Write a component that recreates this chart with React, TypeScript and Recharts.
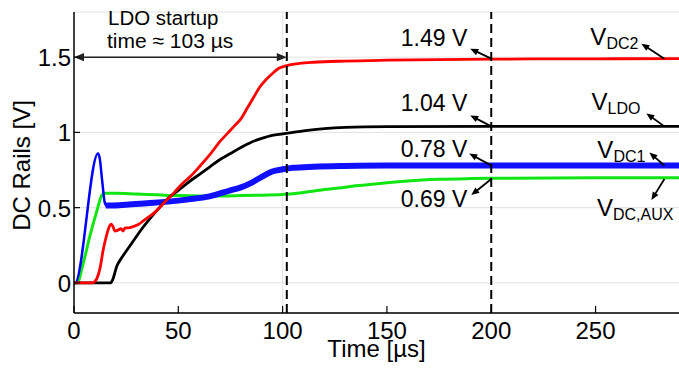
import {
  CartesianGrid,
  Line,
  LineChart,
  ReferenceDot,
  ReferenceLine,
  XAxis,
  YAxis,
} from "recharts";

const FONT = "'Liberation Sans', Arial, Helvetica, sans-serif";

const timeTicks = [0, 50, 100, 150, 200, 250];
const voltTicks = [0, 0.5, 1, 1.5];

// V_DC2 (red)
const vdc2Time = [0, 9, 10, 11, 12.5, 14, 15.5, 16.8, 17.8, 18.5, 19.6, 21, 22.5, 23.5, 24.5, 26, 28.5, 31, 33, 36, 38, 41, 44, 48, 52, 56, 60, 65, 70, 74, 77, 80, 83, 86, 89, 92, 95, 98, 101, 104, 108, 115, 130, 150, 200, 250, 290];
const vdc2Volt = [0, 0, 0.01, 0.03, 0.1, 0.22, 0.31, 0.37, 0.39, 0.38, 0.345, 0.35, 0.36, 0.345, 0.365, 0.365, 0.375, 0.39, 0.41, 0.44, 0.46, 0.5, 0.545, 0.6, 0.66, 0.71, 0.77, 0.85, 0.94, 1.0, 1.045, 1.09, 1.16, 1.23, 1.3, 1.35, 1.39, 1.425, 1.44, 1.45, 1.458, 1.466, 1.474, 1.48, 1.487, 1.489, 1.49];

// V_LDO (black)
const vldoTime = [0, 17.5, 18.5, 20.5, 23, 25.5, 28.5, 31.5, 36, 40, 45, 50, 55, 60, 65, 70, 75, 80, 85, 90, 95, 100, 105, 110, 120, 130, 150, 200, 250, 290];
const vldoVolt = [0, 0, 0.02, 0.11, 0.17, 0.22, 0.28, 0.34, 0.42, 0.485, 0.56, 0.615, 0.67, 0.72, 0.77, 0.82, 0.86, 0.9, 0.935, 0.96, 0.98, 0.99, 1.0, 1.01, 1.025, 1.033, 1.038, 1.04, 1.04, 1.04];

// V_DC1 (blue) - initial spike drawn thin, the noisy settled part thick
const vdc1RiseTime = [0, 0.5, 11.5, 12.3, 13.5, 14.8, 15.8];
const vdc1RiseVolt = [0, 0, 0.86, 0.83, 0.68, 0.53, 0.51];
const vdc1Time = [15.2, 18, 25, 35, 45, 55, 65, 75, 80, 85, 90, 95, 100, 105, 115, 130, 150, 200, 250, 290];
const vdc1Volt = [0.515, 0.515, 0.52, 0.53, 0.54, 0.555, 0.575, 0.615, 0.635, 0.665, 0.705, 0.74, 0.755, 0.765, 0.772, 0.777, 0.78, 0.78, 0.78, 0.78];

// V_DC,AUX (green)
const vauxTime = [0, 1.5, 4.4, 7.6, 10.8, 13.5, 15, 20, 30, 40, 50, 60, 70, 80, 90, 100, 105, 110, 115, 120, 127, 135, 143, 150, 160, 175, 190, 200, 250, 290];
const vauxVolt = [0, 0, 0.13, 0.31, 0.47, 0.585, 0.595, 0.595, 0.59, 0.585, 0.58, 0.578, 0.578, 0.58, 0.583, 0.588, 0.592, 0.6, 0.61, 0.62, 0.63, 0.645, 0.655, 0.665, 0.677, 0.688, 0.693, 0.695, 0.698, 0.698];

const startupTime = 102;
const startupLevel = 1.5;
const readoutTime = 200;
const railLabelTime = 283;

const readoutLabels = ["1.49 V", "1.04 V", "0.78 V", "0.69 V"];
const readoutValues = [1.49, 1.04, 0.78, 0.69];
const railNames = ["DC2", "LDO", "DC1", "DC,AUX"];

// pixel offsets of arrow heads / text from the annotated point
const readoutOffsets = [
  { hx: -21, hy: -10, tx: -24, ty: -13 },
  { hx: -21, hy: -11, tx: -24, ty: -15 },
  { hx: -22, hy: -12, tx: -24, ty: -9 },
  { hx: -20, hy: 16, tx: -24, ty: 28 },
];
const railOffsets = [
  { hx: -23, hy: -15, tx: -26, ty: -14 },
  { hx: -18, hy: -13, tx: -24, ty: -16 },
  { hx: -15, hy: -13, tx: -19, ty: -8 },
  { hx: -13, hy: 21, tx: 9, ty: 37 },
];

const toRows = (t: number[], v: number[]) => t.map((x, i) => ({ t: x, v: v[i] }));

const vdc2 = toRows(vdc2Time, vdc2Volt);
const vldo = toRows(vldoTime, vldoVolt);
const vdc1Rise = toRows(vdc1RiseTime, vdc1RiseVolt);
const vdc1 = toRows(vdc1Time, vdc1Volt);
const vaux = toRows(vauxTime, vauxVolt);

function arrowHead(x1: number, y1: number, x2: number, y2: number, len: number, color: string) {
  const a = Math.atan2(y2 - y1, x2 - x1);
  const w = len * 0.42;
  const bx = x2 - len * Math.cos(a);
  const by = y2 - len * Math.sin(a);
  const px = -Math.sin(a) * w;
  const py = Math.cos(a) * w;
  return (
    <polygon
      points={`${x2},${y2} ${bx + px},${by + py} ${bx - px},${by - py}`}
      fill={color}
    />
  );
}

function Arrow({ x1, y1, x2, y2 }: { x1: number; y1: number; x2: number; y2: number }) {
  const a = Math.atan2(y2 - y1, x2 - x1);
  const len = 8;
  return (
    <g>
      <line
        x1={x1}
        y1={y1}
        x2={x2 - (len - 1) * Math.cos(a)}
        y2={y2 - (len - 1) * Math.sin(a)}
        stroke="#000"
        strokeWidth={1.8}
      />
      {arrowHead(x1, y1, x2, y2, len, "#000")}
    </g>
  );
}

function readoutShape(i: number) {
  return (props: any) => {
    const { cx, cy } = props;
    const o = readoutOffsets[i];
    return (
      <g>
        <Arrow x1={cx} y1={cy} x2={cx + o.hx} y2={cy + o.hy} />
        <text
          x={cx + o.tx}
          y={cy + o.ty}
          textAnchor="end"
          fontFamily={FONT}
          fontSize={23}
          fill="#000"
        >
          {readoutLabels[i]}
        </text>
      </g>
    );
  };
}

function railShape(i: number) {
  return (props: any) => {
    const { cx, cy } = props;
    const o = railOffsets[i];
    return (
      <g>
        <Arrow x1={cx} y1={cy} x2={cx + o.hx} y2={cy + o.hy} />
        <text
          x={cx + o.tx}
          y={cy + o.ty}
          textAnchor="end"
          fontFamily={FONT}
          fill="#000"
        >
          <tspan fontSize={24}>V</tspan>
          <tspan fontSize={16} dy={4}>
            {railNames[i]}
          </tspan>
        </text>
      </g>
    );
  };
}

function startupShape(props: any) {
  const { x1, y1, x2, y2 } = props;
  const len = 10;
  return (
    <g>
      <line x1={x1 + len - 1} y1={y1} x2={x2 - len + 1} y2={y2} stroke="#222" strokeWidth={1.5} />
      {arrowHead(x2, y2, x1, y1, len, "#222")}
      {arrowHead(x1, y1, x2, y2, len, "#222")}
      <text x={x1 + 34} y={y1 - 32} fontFamily={FONT} fontSize={20.5} fill="#000">
        LDO startup
      </text>
      <text x={x1 + 33} y={y1 - 9} fontFamily={FONT} fontSize={21} fill="#000">
        time ≈ 103 µs
      </text>
    </g>
  );
}

function XTick(props: any) {
  const { x, y, payload } = props;
  return (
    <g>
      <line x1={x} y1={y} x2={x} y2={y - 7} stroke="#000" strokeWidth={1.2} />
      <text x={x} y={y + 26} textAnchor="middle" fontFamily={FONT} fontSize={24} fill="#000">
        {payload.value}
      </text>
    </g>
  );
}

function YTick(props: any) {
  const { x, y, payload } = props;
  return (
    <g>
      <line x1={x} y1={y} x2={x + 6} y2={y} stroke="#000" strokeWidth={1.2} />
      <text x={x - 3} y={y + 9} textAnchor="end" fontFamily={FONT} fontSize={24} fill="#000">
        {String(payload.value)}
      </text>
    </g>
  );
}

function XTitle(props: any) {
  const { x, y, width } = props.viewBox;
  return (
    <text x={x + width / 2} y={y + 44} textAnchor="middle" fontFamily={FONT} fontSize={24} fill="#000">
      Time [µs]
    </text>
  );
}

function YTitle(props: any) {
  const { x, y, height } = props.viewBox;
  const cx = x + 21;
  const cy = y + height / 2 + 3;
  return (
    <text
      x={cx}
      y={cy}
      transform={`rotate(-90 ${cx} ${cy})`}
      textAnchor="middle"
      dominantBaseline="central"
      fontFamily={FONT}
      fontSize={24}
      fill="#000"
    >
      DC Rails [V]
    </text>
  );
}

export default function App() {
  return (
    <div style={{ position: "absolute", left: 0, top: 0, background: "#fff" }}>
      <LineChart width={679} height={372} margin={{ top: 12, right: 0, bottom: 0, left: 0 }}>
        <CartesianGrid vertical={false} stroke="#e2e2e2" strokeWidth={1} />
        <XAxis
          type="number"
          dataKey="t"
          domain={[0, 290]}
          ticks={timeTicks}
          allowDataOverflow
          height={59}
          tickSize={0}
          tickMargin={0}
          tickLine={false}
          tick={<XTick />}
          axisLine={{ stroke: "#000", strokeWidth: 1.5 }}
          label={{ content: XTitle }}
        />
        <YAxis
          type="number"
          dataKey="v"
          domain={[-0.2, 1.8]}
          ticks={voltTicks}
          allowDataOverflow
          width={74}
          tickSize={0}
          tickMargin={0}
          tickLine={false}
          tick={<YTick />}
          axisLine={{ stroke: "#000", strokeWidth: 1.5 }}
          label={{ content: YTitle }}
        />
        <ReferenceLine x={100} stroke="#e2e2e2" strokeWidth={1} />
        <Line data={vaux} dataKey="v" type="monotone" stroke="#12e612" strokeWidth={3} dot={false} activeDot={false} isAnimationActive={false} />
        <Line data={vdc1Rise} dataKey="v" type="monotone" stroke="#0000ff" strokeWidth={2.5} dot={false} activeDot={false} isAnimationActive={false} />
        <Line data={vdc1} dataKey="v" type="monotone" stroke="#1010ff" strokeWidth={6} dot={false} activeDot={false} isAnimationActive={false} />
        <Line data={vldo} dataKey="v" type="monotone" stroke="#000000" strokeWidth={2.8} dot={false} activeDot={false} isAnimationActive={false} />
        <Line data={vdc2} dataKey="v" type="monotone" stroke="#ff0000" strokeWidth={2.8} dot={false} activeDot={false} isAnimationActive={false} />
        <ReferenceLine x={startupTime} stroke="#000" strokeWidth={2} strokeDasharray="9 5" />
        <ReferenceLine x={readoutTime} stroke="#000" strokeWidth={2} strokeDasharray="9 5" />
        <ReferenceLine
          segment={[
            { x: 0, y: startupLevel },
            { x: startupTime, y: startupLevel },
          ]}
          shape={startupShape}
        />
        {readoutValues.map((v, i) => (
          <ReferenceDot key={`r${i}`} x={readoutTime} y={v} r={0} shape={readoutShape(i)} />
        ))}
        {readoutValues.map((v, i) => (
          <ReferenceDot key={`n${i}`} x={railLabelTime} y={v} r={0} shape={railShape(i)} />
        ))}
      </LineChart>
    </div>
  );
}
